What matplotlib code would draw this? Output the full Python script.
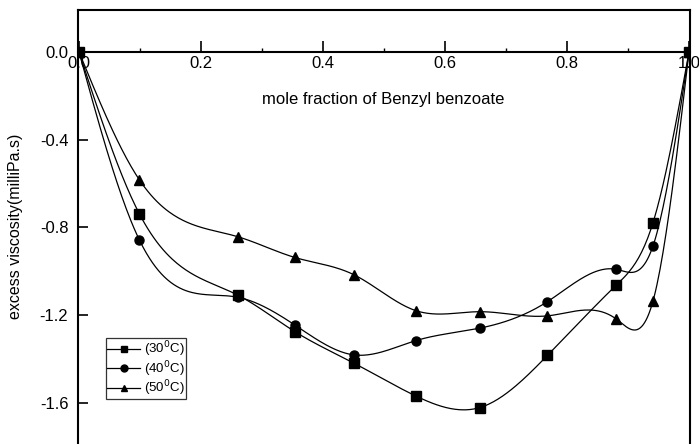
import numpy as np
import matplotlib
matplotlib.use("Agg")
import matplotlib.pyplot as plt
from matplotlib.ticker import MultipleLocator, FormatStrFormatter

plt.rcParams['font.family'] = ['Liberation Sans', 'DejaVu Sans']
plt.rcParams['axes.unicode_minus'] = False

# Data (mole fraction of Benzyl benzoate vs excess viscosity, milliPa.s)
x_frac = [0.0, 0.099, 0.260, 0.354, 0.451, 0.552, 0.657, 0.768, 0.881, 0.941, 1.0]
eta_30 = [0.0, -0.738, -1.108, -1.275, -1.419, -1.568, -1.621, -1.383, -1.062, -0.778, 0.0]
eta_40 = [0.0, -0.857, -1.118, -1.245, -1.381, -1.316, -1.259, -1.138, -0.991, -0.884, 0.0]
eta_50 = [0.0, -0.583, -0.842, -0.937, -1.016, -1.179, -1.184, -1.203, -1.218, -1.135, 0.0]
labels = ['(30$^0$C)', '(40$^0$C)', '(50$^0$C)']
markers = ['s', 'o', '^']


def natural_spline(x, y, n=400):
    x = np.asarray(x, float)
    y = np.asarray(y, float)
    k = len(x)
    h = np.diff(x)
    A = np.zeros((k, k))
    b = np.zeros(k)
    A[0, 0] = 1
    A[-1, -1] = 1
    for i in range(1, k - 1):
        A[i, i - 1] = h[i - 1]
        A[i, i] = 2 * (h[i - 1] + h[i])
        A[i, i + 1] = h[i]
        b[i] = 3 * ((y[i + 1] - y[i]) / h[i] - (y[i] - y[i - 1]) / h[i - 1])
    c = np.linalg.solve(A, b)
    xs = np.linspace(x[0], x[-1], n)
    idx = np.clip(np.searchsorted(x, xs) - 1, 0, k - 2)
    dx = xs - x[idx]
    hi = h[idx]
    bi = (y[idx + 1] - y[idx]) / hi - hi * (2 * c[idx] + c[idx + 1]) / 3
    di = (c[idx + 1] - c[idx]) / (3 * hi)
    ys = y[idx] + bi * dx + c[idx] * dx ** 2 + di * dx ** 3
    return xs, ys


fig = plt.figure(figsize=(6.99, 4.44), dpi=100)
ax = fig.add_axes([78 / 699, 0.0, 612 / 699, 434 / 444])

for ys, lab, mk in zip([eta_30, eta_40, eta_50], labels, markers):
    sx, sy = natural_spline(x_frac, ys)
    ax.plot(sx, sy, color='black', lw=0.9)
    ms = 7.5 if mk == '^' else 6.5
    ax.plot(x_frac, ys, linestyle='none', marker=mk, color='black', ms=ms)
    # legend proxy
    ax.plot([], [], color='black', lw=0.9, marker=mk, ms=5, label=lab)

ax.set_xlim(-0.0016, 1.0016)
ax.set_ylim(-1.787, 0.191)

ax.spines['bottom'].set_position(('data', 0))
ax.spines['bottom'].set_zorder(0)
for s in ['left', 'right', 'top', 'bottom']:
    ax.spines[s].set_linewidth(1.5)

ax.xaxis.set_major_locator(MultipleLocator(0.2))
ax.xaxis.set_minor_locator(MultipleLocator(0.1))
ax.xaxis.set_major_formatter(FormatStrFormatter('%.1f'))
ax.yaxis.set_major_locator(MultipleLocator(0.4))
ax.yaxis.set_major_formatter(FormatStrFormatter('%.1f'))

ax.tick_params(axis='x', which='major', direction='in', length=8, width=1.2,
               labelsize=12, pad=3, top=False)
ax.tick_params(axis='x', which='minor', direction='in', length=3, width=1.0, top=False)
ax.tick_params(axis='y', which='major', direction='in', length=7, width=1.2,
               labelsize=12, pad=7, right=False)

ax.text(0.498, -0.219, 'mole fraction of Benzyl benzoate', ha='center', va='center',
        fontsize=12, transform=ax.transData)
fig.text(16 / 699, 1 - 226 / 444, 'excess viscosity(milliPa.s)', rotation=90,
         ha='center', va='center', fontsize=11.5)

leg = ax.legend(loc='upper left', bbox_to_anchor=((106 - 78) / 612, (434 - (338 - 10)) / 434),
                frameon=True, fancybox=False, fontsize=9.5, handlelength=2.5,
                handletextpad=0.3, borderpad=0.1, labelspacing=0.0, borderaxespad=0)
leg.get_frame().set_edgecolor('black')
leg.get_frame().set_linewidth(0.9)

fig.savefig('out.png', dpi=100)
